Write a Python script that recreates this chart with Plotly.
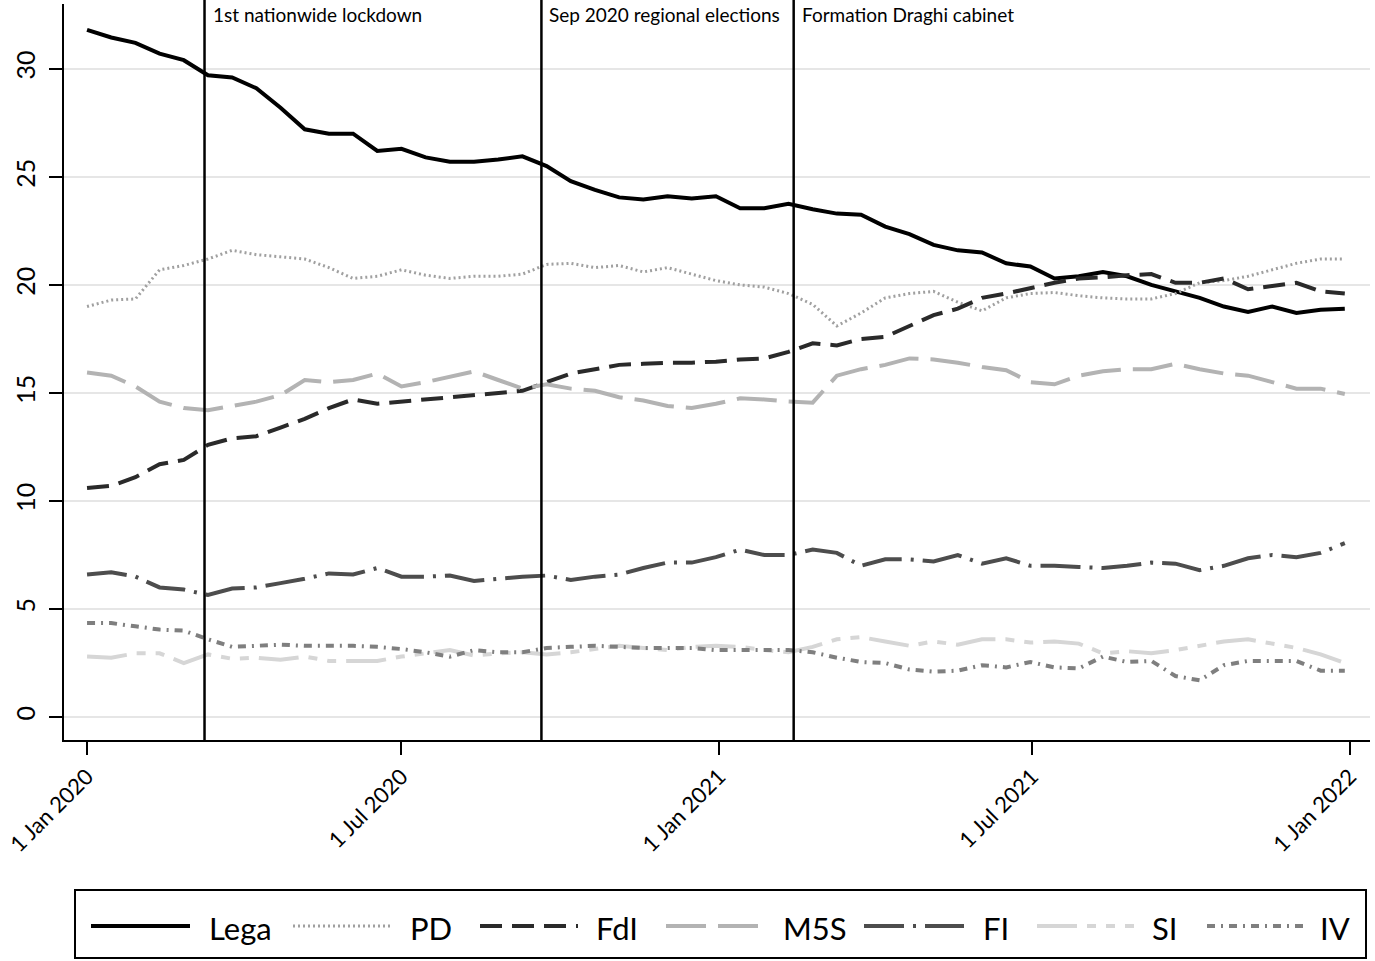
import pandas as pd
import plotly.graph_objects as go

# ---- data (biweekly poll averages, %) ----
dates = pd.date_range("2020-01-01", periods=53, freq="14D")

lega = [31.8, 31.45, 31.2, 30.7, 30.4, 29.7, 29.6, 29.1, 28.2, 27.2, 27.0, 27.0, 26.2, 26.3,
        25.9, 25.7, 25.7, 25.8, 25.95, 25.5, 24.8, 24.4, 24.05, 23.95, 24.1, 24.0, 24.1, 23.55,
        23.55, 23.75, 23.5, 23.3, 23.25, 22.7, 22.35, 21.85, 21.6, 21.5, 21.0, 20.85, 20.3, 20.4,
        20.6, 20.4, 20.0, 19.7, 19.4, 19.0, 18.75, 19.0, 18.7, 18.85, 18.9]
pd_ = [19.0, 19.3, 19.35, 20.7, 20.9, 21.2, 21.6, 21.4, 21.3, 21.2, 20.8, 20.3, 20.4, 20.7,
       20.45, 20.3, 20.4, 20.4, 20.5, 20.95, 21.0, 20.8, 20.9, 20.6, 20.8, 20.5, 20.2, 20.0,
       19.9, 19.6, 19.1, 18.1, 18.7, 19.4, 19.6, 19.7, 19.2, 18.8, 19.4, 19.6, 19.65, 19.5,
       19.4, 19.35, 19.35, 19.6, 20.1, 20.2, 20.4, 20.7, 21.0, 21.2, 21.2]
fdi = [10.6, 10.7, 11.1, 11.7, 11.9, 12.6, 12.9, 13.0, 13.4, 13.8, 14.3, 14.7, 14.5, 14.6,
       14.7, 14.8, 14.9, 15.0, 15.1, 15.5, 15.9, 16.1, 16.3, 16.35, 16.4, 16.4, 16.45, 16.55,
       16.6, 16.9, 17.3, 17.2, 17.5, 17.6, 18.1, 18.6, 18.9, 19.4, 19.6, 19.85, 20.1, 20.3,
       20.35, 20.45, 20.5, 20.1, 20.1, 20.3, 19.8, 19.95, 20.1, 19.7, 19.6]
m5s = [15.95, 15.8, 15.3, 14.6, 14.3, 14.2, 14.4, 14.6, 14.9, 15.6, 15.5, 15.6, 15.9, 15.3,
       15.5, 15.75, 16.0, 15.6, 15.2, 15.4, 15.2, 15.1, 14.8, 14.65, 14.4, 14.3, 14.5, 14.75,
       14.7, 14.6, 14.55, 15.8, 16.1, 16.3, 16.6, 16.55, 16.4, 16.2, 16.05, 15.5, 15.4, 15.8,
       16.0, 16.1, 16.1, 16.35, 16.1, 15.9, 15.8, 15.5, 15.2, 15.2, 14.95]
fi = [6.6, 6.7, 6.5, 6.0, 5.9, 5.65, 5.95, 6.0, 6.2, 6.4, 6.65, 6.6, 6.9, 6.5,
      6.5, 6.55, 6.3, 6.42, 6.5, 6.55, 6.35, 6.5, 6.6, 6.9, 7.15, 7.15, 7.4, 7.75,
      7.5, 7.5, 7.75, 7.6, 7.0, 7.3, 7.3, 7.2, 7.5, 7.1, 7.35, 7.0, 7.0, 6.95,
      6.9, 7.0, 7.15, 7.1, 6.8, 7.0, 7.35, 7.5, 7.4, 7.6, 8.05]
si = [2.8, 2.75, 2.95, 2.95, 2.5, 2.9, 2.7, 2.75, 2.65, 2.8, 2.6, 2.6, 2.6, 2.8,
      2.95, 3.1, 2.85, 2.95, 3.0, 2.9, 3.0, 3.15, 3.3, 3.2, 3.1, 3.25, 3.3, 3.25,
      3.1, 3.0, 3.25, 3.6, 3.7, 3.5, 3.3, 3.5, 3.35, 3.6, 3.6, 3.45, 3.5, 3.4,
      2.95, 3.05, 2.95, 3.1, 3.3, 3.5, 3.6, 3.4, 3.2, 2.9, 2.5]
iv = [4.35, 4.35, 4.2, 4.05, 4.0, 3.6, 3.25, 3.3, 3.35, 3.3, 3.3, 3.3, 3.25, 3.15,
      3.0, 2.8, 3.1, 3.0, 3.0, 3.2, 3.25, 3.3, 3.25, 3.2, 3.2, 3.2, 3.1, 3.1,
      3.1, 3.1, 3.0, 2.75, 2.55, 2.5, 2.2, 2.1, 2.15, 2.4, 2.3, 2.55, 2.3, 2.25,
      2.8, 2.55, 2.6, 1.9, 1.7, 2.4, 2.6, 2.6, 2.6, 2.15, 2.15]

party_names = ["Lega", "PD", "FdI", "M5S", "FI", "SI", "IV"]
party_values = [lega, pd_, fdi, m5s, fi, si, iv]

event_dates = ["2020-03-09", "2020-09-20", "2021-02-13"]
event_labels = ["1st nationwide lockdown", "Sep 2020 regional elections", "Formation Draghi cabinet"]

x_ticks = ["2020-01-01", "2020-07-01", "2021-01-01", "2021-07-01", "2022-01-01"]
y_ticks = [0, 5, 10, 15, 20, 25, 30]

# ---- styles ----
styles = {
    "Lega": dict(color="#000000", dash="solid", width=4),
    "PD": dict(color="#a0a0a0", dash="2px,3px", width=3),
    "FdI": dict(color="#2a2a2a", dash="22px,10px", width=4),
    "M5S": dict(color="#b3b3b3", dash="40px,12px", width=4),
    "FI": dict(color="#4d4d4d", dash="40px,9px,3px,9px", width=4),
    "SI": dict(color="#d6d6d6", dash="40px,10px,9px,10px,9px,10px", width=4),
    "IV": dict(color="#7f7f7f", dash="8px,6px,2px,6px", width=4),
}

FONT = "Lato"

fig = go.Figure()
for name, vals in zip(party_names, party_values):
    fig.add_trace(go.Scatter(x=dates, y=vals, mode="lines", name=name,
                             line=styles[name], showlegend=False))

# event lines & labels
for d, lab in zip(event_dates, event_labels):
    fig.add_shape(type="line", xref="x", yref="paper", x0=d, x1=d, y0=0, y1=1.006,
                  line=dict(color="black", width=2.5))
    fig.add_annotation(x=d, xref="x", y=1.004, yref="paper", text=lab, showarrow=False,
                       xanchor="left", yanchor="top", xshift=6,
                       font=dict(family=FONT, size=19, color="black"))

# ---- manual legend (paper coords relative to plot area) ----
L, R, T, B = 64, 1370, 4, 740  # plot area in px
def px_x(p):
    return (p - L) / (R - L)
def px_y(p):
    return (B - p) / (B - T)

fig.add_shape(type="rect", xref="paper", yref="paper",
              x0=px_x(75), x1=px_x(1366), y0=px_y(958), y1=px_y(890),
              line=dict(color="black", width=2), fillcolor="white")
leg_pos = [(91, 190, 207), (293, 392, 408), (480, 578, 594), (666, 765, 781),
           (864, 964, 981), (1037, 1134, 1150), (1207, 1303, 1318)]
ly = 926
for name, (a, b, t) in zip(party_names, leg_pos):
    st = styles[name]
    fig.add_shape(type="line", xref="paper", yref="paper",
                  x0=px_x(a), x1=px_x(b), y0=px_y(ly), y1=px_y(ly),
                  line=dict(color=st["color"], dash=st["dash"], width=st["width"]))
    fig.add_annotation(x=px_x(t), y=px_y(ly + 2), xref="paper", yref="paper", text=name,
                       showarrow=False, xanchor="left", yanchor="middle",
                       font=dict(family=FONT, size=31, color="black"))

fig.update_layout(
    width=1375, height=961,
    margin=dict(l=L, r=1375 - R, t=T, b=961 - B),
    plot_bgcolor="white", paper_bgcolor="white",
    font=dict(family=FONT, color="black"),
)
fig.update_xaxes(
    type="date", range=["2019-12-18 16:00", "2022-01-12 14:00"],
    tickvals=x_ticks, tickformat="%-d %b %Y", tickangle=-45,
    ticks="outside", ticklen=13, tickwidth=2, tickcolor="black",
    showline=True, linecolor="black", linewidth=2, showgrid=False, zeroline=False,
    ticklabeloverflow="allow", automargin=False,
    tickfont=dict(family=FONT, size=22, color="black"),
)
fig.update_yaxes(
    range=[-1.06, 33.0], tickvals=y_ticks, tickangle=-90,
    ticks="outside", ticklen=13, tickwidth=2, tickcolor="black",
    showline=True, linecolor="black", linewidth=2, ticklabelstandoff=4,
    showgrid=True, gridcolor="#e6e6e6", gridwidth=2, zeroline=False,
    automargin=False,
    tickfont=dict(family=FONT, size=25, color="black"),
)

fig.write_html("out.html", config={"displayModeBar": False},
               post_script="document.body.style.margin='0';document.body.style.overflow='hidden';")
